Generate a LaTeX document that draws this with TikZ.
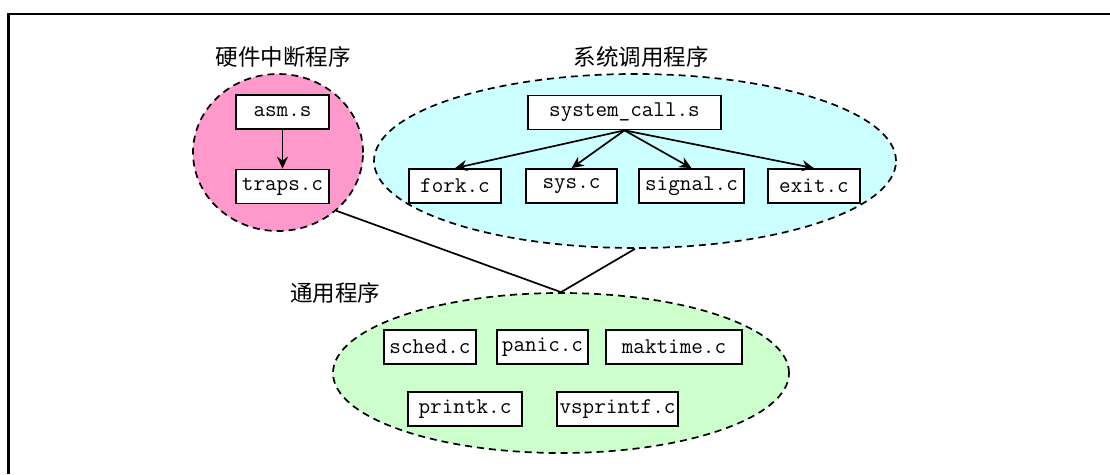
\documentclass[tikz,border=0pt]{standalone}
\usepackage{fontspec}
\newfontfamily\cjk{Noto Sans CJK SC}
\usetikzlibrary{shapes.geometric,arrows.meta}
\begin{document}
\begin{tikzpicture}[x=1pt,y=-1pt,
  grp/.style={ellipse,draw,line width=1.7pt,dash pattern=on 7pt off 5pt,inner sep=0pt},
  file/.style={draw,line width=1.7pt,fill=white,minimum height=34pt,inner sep=0pt,
    font=\fontsize{22.5}{22.5}\selectfont\ttfamily},
  lbl/.style={font=\fontsize{22.5}{22.5}\selectfont\cjk,inner sep=0pt},
  arr/.style={line width=1.7pt,-{Stealth[length=12pt,width=11pt]}},
  link/.style={line width=1.7pt}]
\useasboundingbox (0,0) rectangle (1110,474);
\coordinate (frtl) at (8.5,14);
\coordinate (frtr) at (1110,14);
\coordinate (frbl) at (8.5,474);
\draw[line width=2.6pt] (frtr) -- (frtl) -- (frbl);

\node[grp,fill={rgb,255:red,255;green,153;blue,204},minimum width=170pt,minimum height=157pt] (pink) at (278,152.5) {};
\node[grp,fill={rgb,255:red,204;green,255;blue,255},minimum width=522pt,minimum height=174pt] (cyan) at (635,161) {};
\node[grp,fill={rgb,255:red,204;green,255;blue,204},minimum width=456pt,minimum height=160pt] (green) at (561,373) {};

\node[lbl] (lpink) at (283,57) {硬件中断程序};
\node[lbl] (lcyan) at (641,57) {系统调用程序};
\node[lbl] (lgreen) at (335,293) {通用程序};

\node[file,minimum width=93pt] (asm) at (282.5,112) {asm.s};
\node[file,minimum width=93pt] (traps) at (282.5,186.5) {traps.c};
\draw[arr] (asm.south) -- (traps.north);

\node[file,minimum width=193pt] (sc) at (624.5,112.5) {system\_call.s};
\node[file,minimum width=92pt] (fork) at (455,186) {fork.c};
\node[file,minimum width=91pt] (sys) at (571.5,186) {sys.c};
\node[file,minimum width=105pt] (signal) at (691.5,186) {signal.c};
\node[file,minimum width=92pt] (exit) at (814,186) {exit.c};
\foreach \t in {fork,sys,signal,exit} \draw[arr] (sc.south) -- (\t.north);

\node[file,minimum width=92pt] (sched) at (430,347) {sched.c};
\node[file,minimum width=91pt] (panic) at (542.5,347) {panic.c};
\node[file,minimum width=136pt] (maktime) at (674,347) {maktime.c};
\node[file,minimum width=114pt] (printk) at (465,409) {printk.c};
\node[file,minimum width=121pt] (vsprintf) at (617.5,409) {vsprintf.c};

\draw[link] (pink.-45) -- (green.north) -- (cyan.south);
\end{tikzpicture}
\end{document}
